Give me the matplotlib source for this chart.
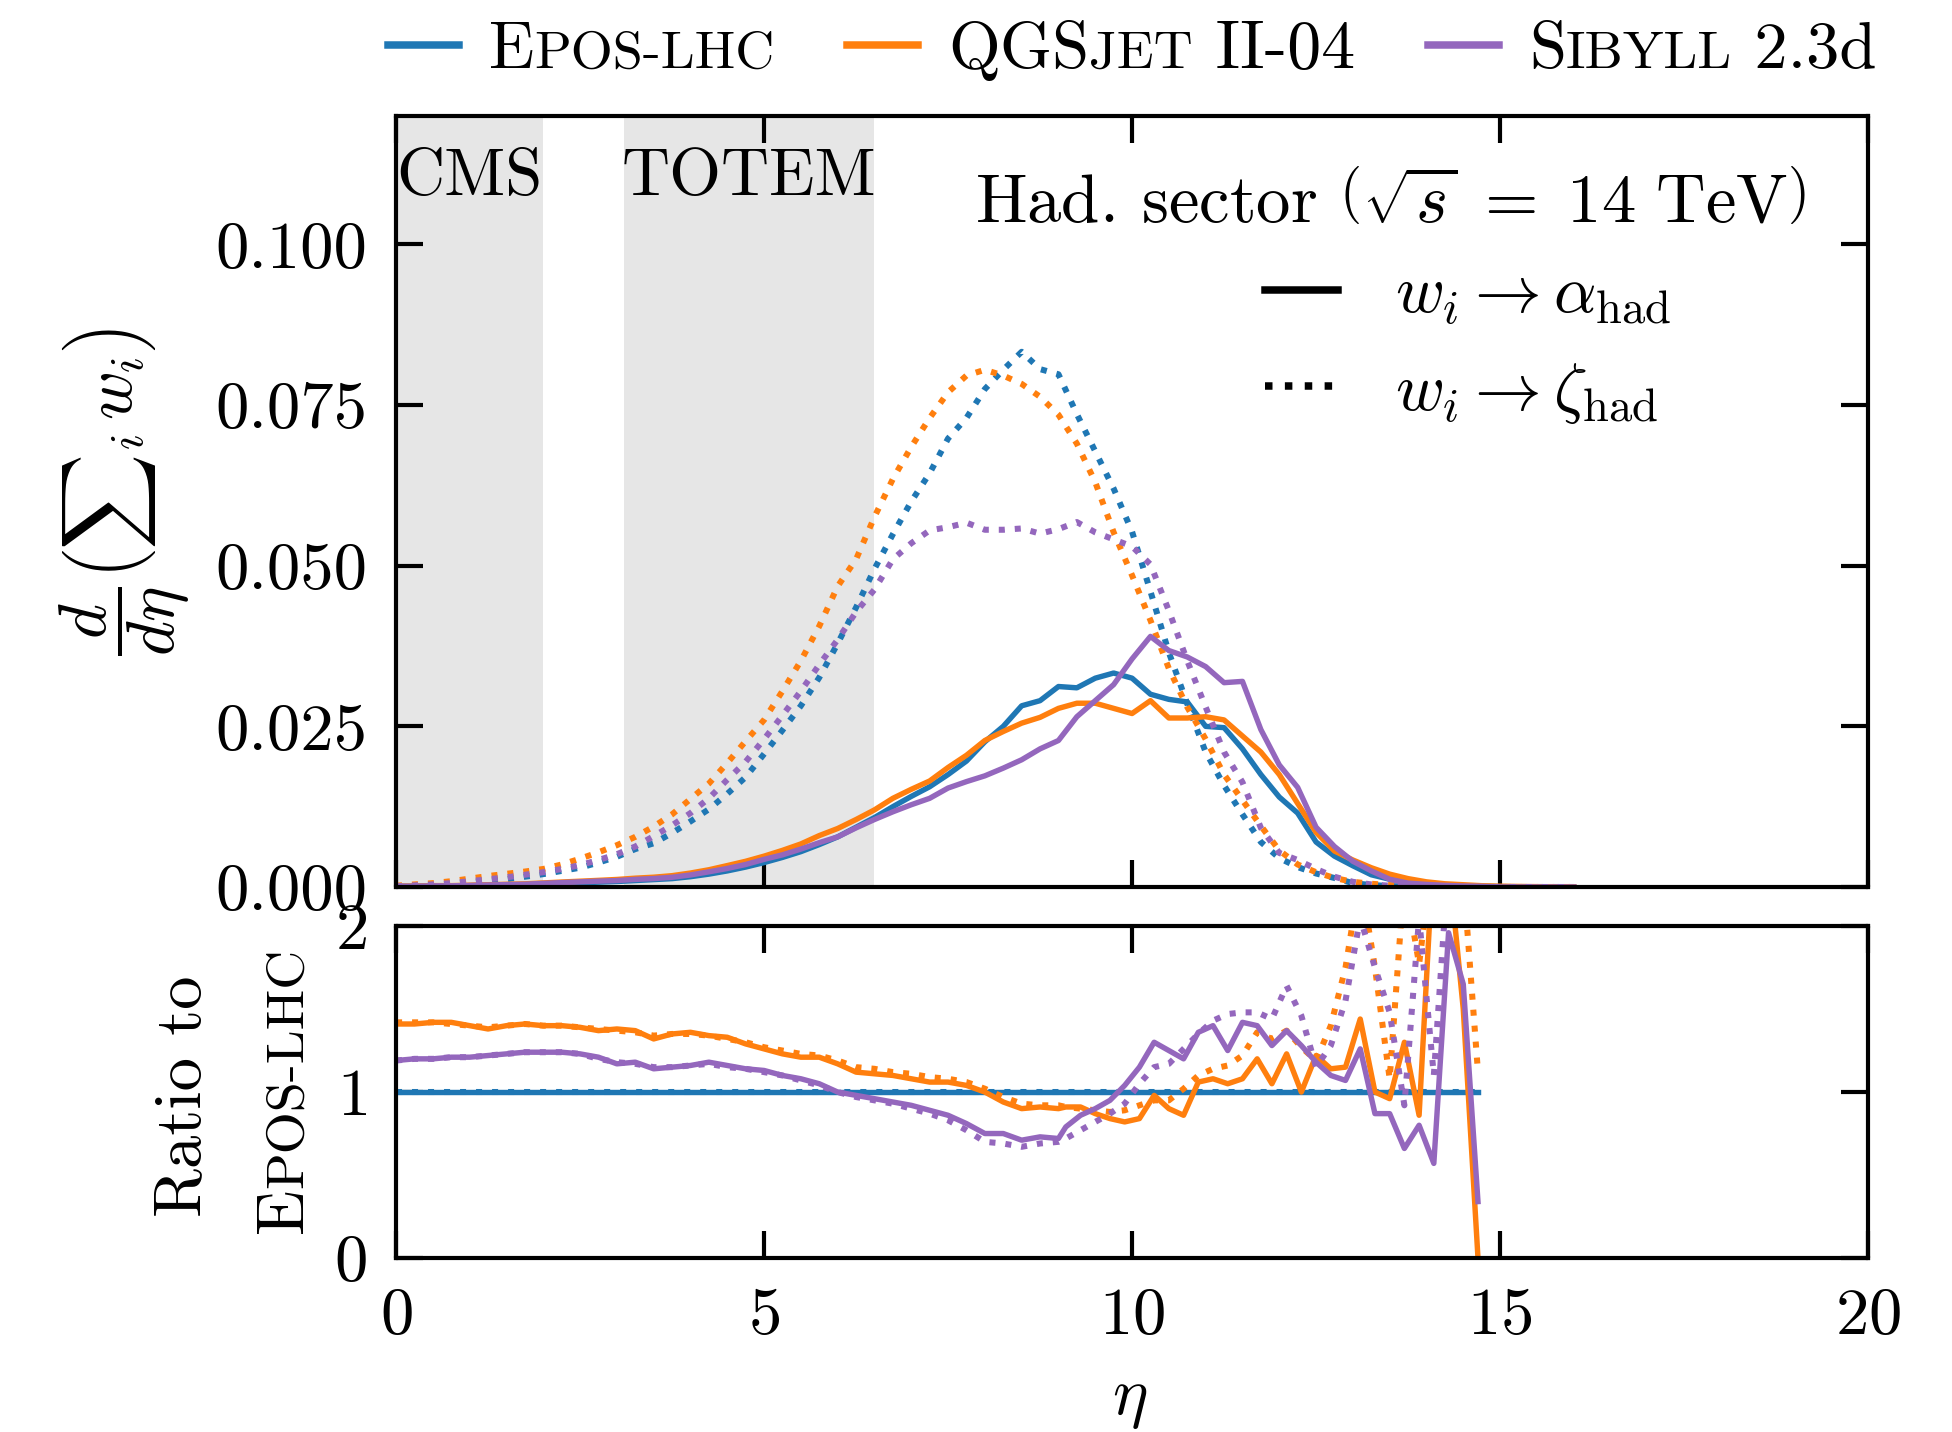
import numpy as np
import matplotlib
matplotlib.use("Agg")
import matplotlib.pyplot as plt
from matplotlib.lines import Line2D
from matplotlib.ticker import FormatStrFormatter

BLUE, ORANGE, PURPLE = "#1f77b4", "#ff7f0e", "#9467bd"
SHADE = "#e6e6e6"
plt.rcParams.update({
    "font.family": "serif", "font.serif": ["cmr10"], "mathtext.fontset": "cm",
    "axes.formatter.use_mathtext": True, "font.size": 16,
    "axes.linewidth": 1.0,
    "xtick.direction": "in", "ytick.direction": "in",
    "xtick.top": True, "ytick.right": True,
    "xtick.major.size": 6.5, "ytick.major.size": 6.5,
    "xtick.major.width": 1.0, "ytick.major.width": 1.0,
    "xtick.major.pad": 7, "ytick.major.pad": 7,
})

# ---- data -------------------------------------------------------------
eta = np.arange(0, 16.01, 0.25)
# main panel, units of 1e-3
epos_alpha = [0.10, 0.10, 0.15, 0.15, 0.20, 0.25, 0.30, 0.35,
              0.45, 0.55, 0.65, 0.75, 0.85, 1.0, 1.15, 1.3,
              1.6, 2.0, 2.5, 3.1, 3.8, 4.6, 5.5, 6.6,
              7.8, 9.3, 10.8, 12.5, 14.1, 15.6, 17.5, 19.6,
              22.6, 25.0, 28.2, 29.0, 31.2, 31.0, 32.5, 33.3,
              32.5, 30.0, 29.2, 28.8, 25.0, 24.8, 21.5, 17.5,
              14.0, 11.5, 7.0, 4.8, 3.3, 1.9, 1.2, 0.7,
              0.45, 0.3, 0.2, 0.12, 0.06, 0.03, 0.01, 0.0, 0.0]
qgs_alpha = [0.14, 0.14, 0.21, 0.21, 0.28, 0.35, 0.42, 0.49,
             0.63, 0.77, 0.90, 1.03, 1.17, 1.37, 1.52, 1.76,
             2.17, 2.68, 3.33, 4.0, 4.8, 5.7, 6.7, 8.0,
             9.1, 10.5, 12.0, 13.8, 15.2, 16.5, 18.6, 20.5,
             22.8, 24.2, 25.5, 26.4, 27.8, 28.6, 28.6, 27.8,
             27.0, 29.0, 26.3, 26.3, 26.5, 26.0, 23.5, 21.0,
             17.5, 13.0, 8.5, 5.6, 4.2, 3.0, 2.0, 1.3,
             0.8, 0.5, 0.35, 0.2, 0.12, 0.08, 0.05, 0.03, 0.02]
sib_alpha = [0.12, 0.12, 0.18, 0.18, 0.24, 0.31, 0.37, 0.43,
             0.56, 0.68, 0.80, 0.91, 1.0, 1.18, 1.31, 1.51,
             1.87, 2.36, 2.88, 3.5, 4.3, 5.0, 5.9, 6.9,
             7.8, 9.2, 10.5, 11.7, 12.8, 13.8, 15.4, 16.4,
             17.3, 18.5, 19.8, 21.5, 22.8, 26.5, 29.0, 31.5,
             35.5, 39.0, 36.8, 35.8, 34.3, 31.8, 32.0, 24.5,
             19.0, 15.5, 9.3, 6.3, 4.0, 2.5, 1.2, 0.6,
             0.4, 0.25, 0.15, 0.1, 0.0, 0.0, 0.0, 0.0, 0.0]
epos_zeta = [0.1, 0.2, 0.35, 0.5, 0.7, 1.0, 1.2, 1.6,
             2.0, 2.5, 3.0, 3.8, 4.7, 5.9, 6.8, 8.4,
             10.2, 12.1, 14.5, 17.1, 20.7, 24.4, 28.2, 32.6,
             37.9, 43.5, 49.5, 54.9, 60.0, 64.4, 69.8, 73.0,
             77.5, 80.5, 83.3, 80.6, 79.8, 73.6, 67.8, 62.0,
             55.3, 46.0, 36.5, 28.5, 21.0, 15.8, 11.3, 7.0,
             4.5, 3.1, 2.1, 1.4, 0.6, 0.3, 0.15, 0.05,
             0, 0, 0, 0, 0, 0, 0, 0, 0]
qgs_zeta = [0.2, 0.4, 0.6, 0.9, 1.3, 1.7, 2.05, 2.4,
            2.8, 3.5, 4.4, 5.4, 6.5, 7.8, 9.4, 11.3,
            13.7, 16.1, 19.3, 22.7, 26.0, 30.5, 35.2, 40.6,
            46.8, 51.0, 57.6, 63.5, 68.5, 73.0, 77.0, 79.6,
            80.5, 79.6, 78.3, 76.3, 73.5, 69.0, 63.0, 55.2,
            48.5, 41.5, 34.0, 28.0, 23.0, 17.5, 13.5, 9.5,
            5.7, 3.5, 2.3, 1.4, 0.8, 0.5, 0.3, 0.15,
            0.05, 0, 0, 0, 0, 0, 0, 0, 0]
sib_zeta = [0.1, 0.25, 0.4, 0.6, 0.9, 1.2, 1.5, 1.9,
            2.3, 2.8, 3.4, 4.2, 5.1, 6.3, 7.9, 9.6,
            11.5, 13.8, 16.7, 19.5, 23.0, 26.7, 30.5, 34.6,
            38.5, 42.8, 46.3, 51.0, 53.5, 55.5, 56.0, 56.7,
            55.6, 55.6, 55.8, 55.0, 55.7, 56.8, 55.2, 54.1,
            53.0, 50.2, 43.0, 35.2, 28.0, 21.0, 16.3, 9.2,
            5.3, 4.2, 2.8, 1.6, 0.8, 0.4, 0.2, 0.1,
            0, 0, 0, 0, 0, 0, 0, 0, 0]
SCALE = 1e-3

# ratio panel: 0..9 in steps of 0.25, 9.1..14.5 in steps of 0.2, then 14.7
eta_r = np.concatenate([np.arange(0, 9.01, 0.25), np.arange(9.1, 14.51, 0.2), [14.7]])
r_qgs_alpha = [1.41, 1.41, 1.42, 1.42, 1.40, 1.38, 1.40, 1.41,
               1.40, 1.40, 1.39, 1.37, 1.38, 1.37, 1.32, 1.35,
               1.36, 1.34, 1.33, 1.29, 1.26, 1.23, 1.21, 1.21,
               1.17, 1.12, 1.11, 1.10, 1.08, 1.06, 1.06, 1.04,
               1.00, 0.94, 0.90, 0.91, 0.90,
               0.91, 0.91, 0.87, 0.84, 0.82, 0.84, 0.98, 0.90, 0.86, 1.06,
               1.08, 1.05, 1.08, 1.20, 1.05, 1.23, 1.00, 1.22, 1.14, 1.15,
               1.44, 1.00, 0.96, 1.30, 0.86, 2.50, 2.40, 1.50,
               0.0]
r_sib_alpha = [1.19, 1.20, 1.20, 1.21, 1.21, 1.22, 1.23, 1.24,
               1.24, 1.24, 1.23, 1.21, 1.17, 1.18, 1.14, 1.15,
               1.16, 1.18, 1.16, 1.14, 1.13, 1.10, 1.08, 1.05,
               1.00, 0.98, 0.96, 0.94, 0.92, 0.89, 0.86, 0.81,
               0.75, 0.75, 0.71, 0.73, 0.72,
               0.79, 0.86, 0.90, 0.95, 1.04, 1.15, 1.30, 1.25, 1.20, 1.36,
               1.40, 1.25, 1.42, 1.40, 1.28, 1.37, 1.28, 1.18, 1.10, 1.07,
               1.26, 0.87, 0.87, 0.66, 0.80, 0.57, 1.96, 1.65,
               0.34]
r_qgs_zeta = [1.42, 1.42, 1.42, 1.41, 1.40, 1.39, 1.40, 1.41,
              1.40, 1.40, 1.39, 1.38, 1.37, 1.36, 1.34, 1.35,
              1.35, 1.34, 1.32, 1.30, 1.27, 1.25, 1.23, 1.22,
              1.19, 1.15, 1.14, 1.12, 1.11, 1.09, 1.08, 1.06,
              1.02, 0.97, 0.93, 0.92, 0.92,
              0.91, 0.90, 0.89, 0.88, 0.89, 0.92, 0.95, 0.95, 1.02, 1.10,
              1.14, 1.16, 1.22, 1.36, 1.32, 1.37, 1.27, 1.19, 1.40, 1.75,
              2.30, 1.75, 1.08, 2.30, 1.77, 2.50, 2.50, 2.30,
              1.12]
r_sib_zeta = [1.19, 1.20, 1.20, 1.21, 1.21, 1.22, 1.23, 1.24,
              1.24, 1.24, 1.23, 1.20, 1.18, 1.17, 1.15, 1.15,
              1.16, 1.17, 1.15, 1.14, 1.12, 1.10, 1.07, 1.04,
              1.00, 0.97, 0.95, 0.93, 0.90, 0.87, 0.83, 0.77,
              0.70, 0.69, 0.67, 0.69, 0.70,
              0.72, 0.77, 0.82, 0.87, 0.93, 1.05, 1.15, 1.17, 1.26, 1.35,
              1.43, 1.47, 1.48, 1.48, 1.44, 1.64, 1.46, 1.15, 1.28, 1.55,
              2.05, 1.75, 1.48, 0.92, 2.05, 1.10, 2.40, 2.40,
              2.40]
r_epos = np.ones(len(eta_r))   # EPOS-LHC divided by itself

# ---- figure -----------------------------------------------------------
W, H, DPI = 1952, 1432, 300
fig = plt.figure(figsize=(W / DPI, H / DPI), dpi=DPI)
ax = fig.add_axes([0.2029, 0.3806, 0.7541, 0.5384])
axr = fig.add_axes([0.2029, 0.1215, 0.7541, 0.2318], sharex=ax)

ax.axvspan(0, 2.0, color=SHADE, lw=0, zorder=0)
ax.axvspan(3.1, 6.5, color=SHADE, lw=0, zorder=0)

LW, LWD = 1.3, 1.45
models = [(BLUE, epos_alpha, epos_zeta, r_epos, r_epos),
          (ORANGE, qgs_alpha, qgs_zeta, r_qgs_alpha, r_qgs_zeta),
          (PURPLE, sib_alpha, sib_zeta, r_sib_alpha, r_sib_zeta)]
for c, a, z, ra, rz in models:
    ax.plot(eta, np.array(a) * SCALE, color=c, lw=LW)
    ax.plot(eta, np.array(z) * SCALE, color=c, lw=LWD, ls=":")
    axr.plot(eta_r, ra, color=c, lw=LW)
    axr.plot(eta_r, rz, color=c, lw=LWD, ls=":")

ax.set_xlim(0, 20); ax.set_ylim(0, 0.12)
ax.set_yticks([0, 0.025, 0.05, 0.075, 0.1])
ax.yaxis.set_major_formatter(FormatStrFormatter("%.3f"))
ax.tick_params(labelbottom=False)
axr.set_ylim(0, 2); axr.set_yticks([0, 1, 2])
axr.set_xticks([0, 5, 10, 15, 20])

xt = ax.get_xaxis_transform()
ax.text(1.0, 0.919, "CMS", transform=xt, ha="center", va="center")
ax.text(4.8, 0.919, "TOTEM", transform=xt, ha="center", va="center")
ax.text(0.958, 0.884, r"Had. sector $\left(\sqrt{s} \;=\; 14\ \mathrm{TeV}\right)$",
        transform=ax.transAxes, ha="right", va="center", fontsize=16.5)

hs = [Line2D([], [], color="k", lw=1.8), Line2D([], [], color="k", lw=1.8, ls=":")]
ax.legend(hs, [r"$w_i \rightarrow \alpha_{\rm had}$", r"$w_i \rightarrow \zeta_{\rm had}$"],
          loc="upper left", bbox_to_anchor=(0.59, 0.805), frameon=False,
          handlelength=1.1, handletextpad=0.85, labelspacing=0.5,
          borderaxespad=0, borderpad=0)

# small-caps style text: pieces of different size laid along one baseline
renderer = fig.canvas.get_renderer()
def chain(x, y, parts, rotation=0):
    for s, size in parts:
        t = fig.text(x, y, s, fontsize=size, rotation=rotation,
                     rotation_mode="anchor", ha="left", va="baseline")
        bb = t.get_window_extent(renderer)
        if rotation == 0:
            x = bb.x1 / fig.bbox.width
        else:
            y = bb.y1 / fig.bbox.height

SC = 13
entries = [(BLUE, 388, [("E", 16), ("POS-LHC", SC)]),
           (ORANGE, 847, [("QGS", 16), ("JET", SC), (" II-04", 16.3)]),
           (PURPLE, 1428, [("S", 16), ("IBYLL", SC), (" 2.3d", 16)])]
for c, x0, parts in entries:
    fig.add_artist(Line2D([x0 / W, (x0 + 71) / W], [0.9685, 0.9685],
                          transform=fig.transFigure, color=c, lw=1.8))
    chain((x0 + 101) / W, 0.9525, parts)

fig.text(0.0638, 0.656, r"$\dfrac{d}{d\eta}\left({\sum}_i\, w_i\right)$",
         rotation=90, ha="center", va="center")
fig.text(0.0937, 0.2346, "Ratio to", rotation=90, ha="center", va="center")
chain(0.1547, 0.139, [("E", 16), ("POS-LHC", SC)], rotation=90)
fig.text(0.5786, 0.0215, r"$\eta$", ha="center", va="center")

fig.savefig("out.png", dpi=DPI)
